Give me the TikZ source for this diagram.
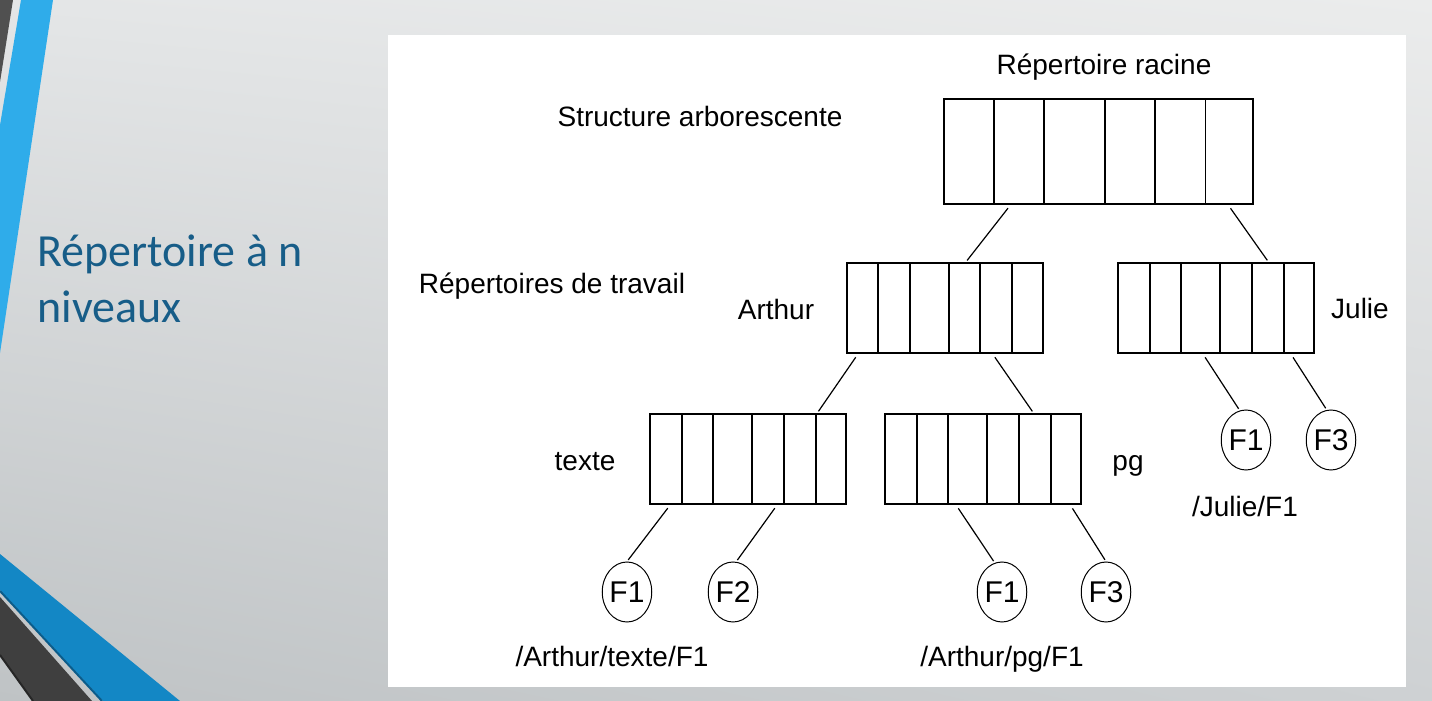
\documentclass[tikz,border=0pt]{standalone}
\usepackage{fontspec}
\setmainfont{Liberation Sans}
\newfontfamily\titrefont{Carlito}
\usetikzlibrary{calc,shapes.geometric,shadings}

\definecolor{fondhg}{HTML}{E4E6E7}
\definecolor{fondhd}{HTML}{EBECEC}
\definecolor{fondbg}{HTML}{BFC3C5}
\definecolor{fondbd}{HTML}{CED1D3}
\definecolor{bleuclair}{HTML}{2FACEA}
\definecolor{bleubas}{HTML}{1387C5}
\definecolor{bleufonce}{HTML}{0B5C8A}
\definecolor{grishaut}{HTML}{505050}
\definecolor{grisbas}{HTML}{3F3F3F}
\definecolor{titre}{HTML}{175D88}

\tikzset{
  dirbox/.style={draw, line width=1pt, inner sep=0pt,
    minimum width=98pt, minimum height=45pt,
    path picture={
      \foreach \f in {0.162,0.323,0.522,0.683,0.846}
      \draw[line width=0.9pt]
      ($(path picture bounding box.south west)!\f!(path picture bounding box.south east)$) --
      ($(path picture bounding box.north west)!\f!(path picture bounding box.north east)$);
    }},
  fichier/.style={draw, ellipse, line width=0.5pt, inner sep=0pt,
    minimum width=24pt, minimum height=30pt, font=\fontsize{15}{17}\selectfont},
  lien/.style={line width=0.6pt, shorten <=2pt, shorten >=1pt},
  etiq/.style={anchor=base, inner sep=0pt, font=\fontsize{14}{16}\selectfont}
}

\begin{document}
\begin{tikzpicture}[x=0.5pt, y=-0.5pt]

  \useasboundingbox (0,0) rectangle (1432,701); %% positioning

  %% fond de la diapositive
  \shade[upper left=fondhg, upper right=fondhd,
         lower left=fondbg, lower right=fondbd] (0,0) rectangle (1432,701);
  \fill[grishaut] (0,0) -- (13,0) -- (0,82) -- cycle;
  \fill[bleuclair] (21,0) -- (53,0) -- (0,353) -- (0,125) -- cycle;
  \fill[bleubas] (0,554) -- (180,701) -- (103,701) -- (0,590) -- cycle;
  \draw[bleufonce, line width=1pt] (0,591) -- (102,701);
  \fill[grisbas] (0,597) -- (92,701) -- (33,701) -- (0,655) -- cycle;
  \draw[black!85, line width=1pt] (0,655) -- (33,701);

  \node[anchor=base west, inner sep=0pt, text=titre,
        font=\titrefont\fontsize{23}{27.5}\selectfont] (titre1) at (37,267) {Répertoire à n};
  \node[anchor=base west, inner sep=0pt, text=titre,
        font=\titrefont\fontsize{23}{27.5}\selectfont] (titre2) at (37,322) {niveaux};

  \fill[white] (388,35) rectangle (1406,687);

  %% repertoires
  \node[dirbox, minimum width=154.5pt, minimum height=52.5pt] (racine) at (1098.5,151.5) {};
  \node[dirbox] (arthur) at (944.5,308) {};
  \node[dirbox] (julie) at (1216,308) {};
  \node[dirbox] (texte) at (748,459) {};
  \node[dirbox] (pg) at (983,459) {};

  %% fichiers
  \node[fichier] (tf1) at (627,592) {F1};
  \node[fichier] (tf2) at (733,592) {F2};
  \node[fichier] (pf1) at (1002,592) {F1};
  \node[fichier] (pf3) at (1106,592) {F3};
  \node[fichier] (jf1) at (1246,440) {F1};
  \node[fichier] (jf3) at (1331,440) {F3};

  %% liens
  \draw[lien] ($(racine.south west)!0.217!(racine.south east)$) --
  ($(arthur.north west)!0.608!(arthur.north east)$);
  \draw[lien] ($(racine.south west)!0.917!(racine.south east)$) --
  ($(julie.north west)!0.765!(julie.north east)$);
  \draw[lien] ($(arthur.south west)!0.063!(arthur.south east)$) --
  ($(texte.north west)!0.85!(texte.north east)$);
  \draw[lien] ($(arthur.south west)!0.743!(arthur.south east)$) --
  ($(pg.north west)!0.755!(pg.north east)$);
  \draw[lien] ($(texte.south west)!0.107!(texte.south east)$) -- (tf1.north);
  \draw[lien] ($(texte.south west)!0.647!(texte.south east)$) -- (tf2.84);
  \draw[lien] ($(pg.south west)!0.364!(pg.south east)$) -- (pf1.104);
  \draw[lien] ($(pg.south west)!0.941!(pg.south east)$) -- (pf3.north);
  \draw[lien] ($(julie.south west)!0.434!(julie.south east)$) -- (jf1.102);
  \draw[lien] ($(julie.south west)!0.878!(julie.south east)$) -- (jf3.98);

  %% textes
  \node[etiq] (lracine) at (1104,75) {Répertoire racine};
  \node[etiq] (lstruct) at (700,127) {Structure arborescente};
  \node[etiq] (ltravail) at (552,293) {Répertoires de travail};
  \node[etiq] (larthur) at (776,320) {Arthur};
  \node[etiq] (ljulie) at (1360,319) {Julie};
  \node[etiq] (ltexte) at (585,470) {texte};
  \node[etiq] (lpg) at (1128,470) {pg};
  \node[etiq] (ljf1) at (1245,516) {/Julie/F1};
  \node[etiq] (ltf1) at (612,666) {/Arthur/texte/F1};
  \node[etiq] (lpf1) at (1002,666) {/Arthur/pg/F1};

\end{tikzpicture}
\end{document}
